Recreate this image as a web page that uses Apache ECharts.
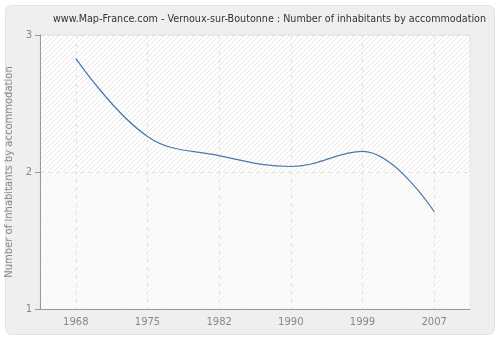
<!DOCTYPE html>
<html>
<head>
<meta charset="utf-8">
<script src="https://cdn.jsdelivr.net/npm/echarts@6/dist/echarts.min.js"></script>
<style>
  html, body { margin: 0; padding: 0; background: #fff; }
  #chart { width: 500px; height: 340px; }
</style>
</head>
<body>
<div id="chart"></div>
<script>
// data
var years = ['1968', '1975', '1982', '1990', '1999', '2007'];
var inhabitants = [2.83, 2.26, 2.12, 2.04, 2.15, 1.71];
var yTicks = [1, 2, 3];

// hatch pattern for the plot background
var pat = document.createElement('canvas');
pat.width = 5; pat.height = 5;
var pc = pat.getContext('2d');
pc.fillStyle = '#ffffff';
pc.fillRect(0, 0, 5, 5);
pc.strokeStyle = '#e6e6e6';
pc.lineWidth = 1;
pc.beginPath();
pc.moveTo(0, 5); pc.lineTo(5, 0);
pc.moveTo(-1, 1); pc.lineTo(1, -1);
pc.moveTo(4, 6); pc.lineTo(6, 4);
pc.stroke();

var myChart = echarts.init(document.getElementById('chart'));
var option = {
  animation: false,
  textStyle: { fontFamily: 'DejaVu Sans' },
  graphic: [{
    type: 'rect',
    z: -10,
    shape: { x: 5.5, y: 5.5, width: 489, height: 329, r: 6 },
    style: { fill: '#efefef', stroke: '#e2e2e2', lineWidth: 1 }
  }],
  title: {
    text: 'www.Map-France.com - Vernoux-sur-Boutonne : Number of inhabitants by accommodation',
    left: 48,
    top: 9,
    textStyle: { fontSize: 9.6, fontWeight: 'normal', color: '#333' }
  },
  grid: {
    left: 40, right: 30, top: 35, bottom: 31,
    outerBoundsMode: 'none',
    show: true,
    z: -5,
    backgroundColor: { image: pat, repeat: 'repeat' },
    borderColor: '#e4e4e4',
    borderWidth: 1
  },
  xAxis: {
    type: 'category',
    data: years,
    boundaryGap: true,
    axisLine: { lineStyle: { color: '#999' } },
    axisTick: { alignWithLabel: true, length: 5, lineStyle: { color: '#999' } },
    axisLabel: { color: '#888', fontSize: 10, margin: 8 },
    splitLine: { show: true, alignWithLabel: true, lineStyle: { color: '#e2e2e2', type: [4, 4] } }
  },
  yAxis: {
    type: 'value',
    min: yTicks[0],
    max: yTicks[yTicks.length - 1],
    interval: 1,
    name: 'Number of inhabitants by accommodation',
    nameLocation: 'middle',
    nameGap: 26,
    nameTextStyle: { color: '#888', fontSize: 10 },
    axisLine: { show: true, lineStyle: { color: '#999' } },
    axisTick: { show: true, length: 5, lineStyle: { color: '#999' } },
    axisLabel: { color: '#888', fontSize: 10, margin: 8 },
    splitLine: { show: true, lineStyle: { color: '#e2e2e2', type: [4, 4] } }
  },
  series: [{
    type: 'line',
    data: inhabitants,
    smooth: 0.4,
    symbol: 'none',
    lineStyle: { color: '#4a78aa', width: 1.2 },
    // lighter lower band, kept under the grid lines
    markArea: {
      silent: true,
      z: -2,
      itemStyle: { color: 'rgba(250,250,250,0.75)' },
      data: [[{ yAxis: yTicks[0] }, { yAxis: yTicks[1] }]]
    }
  }]
};
myChart.setOption(option);
</script>
</body>
</html>
